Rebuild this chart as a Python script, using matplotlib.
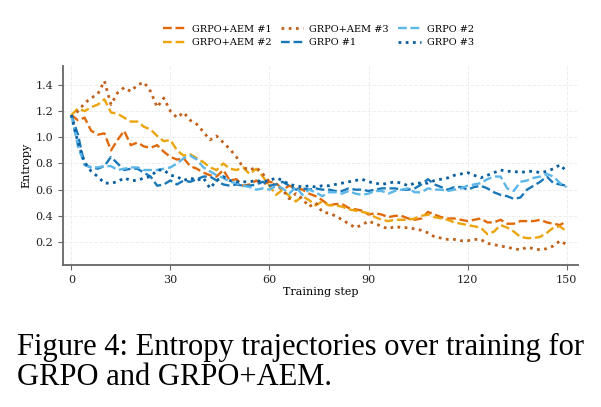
import numpy as np
import matplotlib
matplotlib.use('Agg')
import matplotlib.pyplot as plt

# training steps (every 2nd step)
steps = list(range(0, 151, 2))

aem1 = [1.17, 1.13, 1.15, 1.05, 1.02, 1.03, 0.90, 0.98, 1.05, 0.94,
        0.96, 0.93, 0.92, 0.94, 0.89, 0.85, 0.83, 0.84, 0.78, 0.76,
        0.73, 0.71, 0.70, 0.75, 0.67, 0.68, 0.63, 0.64, 0.67, 0.64,
        0.66, 0.65, 0.60, 0.63, 0.61, 0.60, 0.57, 0.55, 0.52, 0.48,
        0.49, 0.49, 0.46, 0.45, 0.44, 0.41, 0.42, 0.41, 0.39, 0.40,
        0.40, 0.38, 0.37, 0.38, 0.43, 0.41, 0.39, 0.38, 0.38, 0.37,
        0.36, 0.37, 0.38, 0.35, 0.35, 0.37, 0.34, 0.34, 0.36, 0.36,
        0.36, 0.37, 0.35, 0.34, 0.33, 0.36]
aem2 = [1.17, 1.22, 1.20, 1.23, 1.25, 1.29, 1.19, 1.18, 1.15, 1.12,
        1.12, 1.08, 1.06, 1.01, 0.97, 0.98, 0.90, 0.86, 0.87, 0.84,
        0.81, 0.77, 0.75, 0.80, 0.76, 0.75, 0.77, 0.72, 0.76, 0.70,
        0.63, 0.56, 0.60, 0.55, 0.51, 0.55, 0.52, 0.48, 0.51, 0.48,
        0.48, 0.47, 0.45, 0.44, 0.43, 0.42, 0.39, 0.37, 0.36, 0.37,
        0.37, 0.37, 0.38, 0.40, 0.41, 0.39, 0.38, 0.37, 0.35, 0.34,
        0.33, 0.32, 0.31, 0.26, 0.28, 0.33, 0.31, 0.28, 0.24, 0.23,
        0.23, 0.24, 0.27, 0.31, 0.32, 0.28]
aem3 = [1.15, 1.20, 1.26, 1.30, 1.33, 1.43, 1.25, 1.34, 1.38, 1.35,
        1.40, 1.42, 1.35, 1.23, 1.30, 1.20, 1.15, 1.19, 1.13, 1.10,
        1.04, 0.98, 1.01, 0.96, 0.91, 0.85, 0.77, 0.75, 0.77, 0.72,
        0.66, 0.63, 0.60, 0.53, 0.57, 0.53, 0.47, 0.50, 0.43, 0.42,
        0.40, 0.37, 0.34, 0.31, 0.33, 0.36, 0.34, 0.32, 0.30, 0.32,
        0.31, 0.31, 0.30, 0.29, 0.27, 0.24, 0.23, 0.22, 0.22, 0.21,
        0.21, 0.22, 0.22, 0.19, 0.18, 0.17, 0.16, 0.15, 0.14, 0.16,
        0.15, 0.14, 0.15, 0.17, 0.21, 0.18]
grpo1 = [1.17, 1.02, 0.79, 0.77, 0.76, 0.78, 0.85, 0.80, 0.75, 0.76,
         0.76, 0.73, 0.70, 0.63, 0.64, 0.67, 0.64, 0.67, 0.66, 0.68,
         0.70, 0.70, 0.67, 0.64, 0.63, 0.64, 0.63, 0.63, 0.64, 0.66,
         0.63, 0.64, 0.66, 0.63, 0.60, 0.61, 0.60, 0.61, 0.60, 0.60,
         0.59, 0.59, 0.61, 0.60, 0.60, 0.59, 0.60, 0.61, 0.61, 0.61,
         0.60, 0.60, 0.61, 0.64, 0.68, 0.64, 0.62, 0.60, 0.62, 0.62,
         0.60, 0.62, 0.63, 0.61, 0.58, 0.56, 0.55, 0.53, 0.54, 0.60,
         0.63, 0.66, 0.70, 0.65, 0.64, 0.63]
grpo2 = [1.17, 0.93, 0.79, 0.77, 0.77, 0.78, 0.78, 0.75, 0.76, 0.77,
         0.77, 0.75, 0.75, 0.75, 0.76, 0.77, 0.80, 0.84, 0.86, 0.83,
         0.77, 0.74, 0.71, 0.69, 0.66, 0.65, 0.63, 0.62, 0.60, 0.61,
         0.60, 0.63, 0.61, 0.57, 0.62, 0.56, 0.60, 0.58, 0.55, 0.58,
         0.58, 0.57, 0.59, 0.57, 0.56, 0.57, 0.59, 0.59, 0.57, 0.59,
         0.60, 0.61, 0.58, 0.58, 0.61, 0.60, 0.60, 0.59, 0.60, 0.61,
         0.63, 0.64, 0.65, 0.68, 0.70, 0.70, 0.61, 0.59, 0.66, 0.67,
         0.69, 0.70, 0.72, 0.70, 0.65, 0.62]
grpo3 = [1.17, 0.96, 0.81, 0.74, 0.70, 0.65, 0.65, 0.66, 0.69, 0.67,
         0.67, 0.69, 0.70, 0.75, 0.75, 0.71, 0.70, 0.67, 0.69, 0.67,
         0.69, 0.61, 0.67, 0.70, 0.67, 0.66, 0.66, 0.66, 0.67, 0.66,
         0.67, 0.69, 0.67, 0.64, 0.63, 0.62, 0.63, 0.62, 0.63, 0.63,
         0.64, 0.65, 0.66, 0.67, 0.68, 0.66, 0.65, 0.64, 0.65, 0.66,
         0.65, 0.63, 0.65, 0.65, 0.65, 0.67, 0.68, 0.69, 0.71, 0.72,
         0.73, 0.71, 0.69, 0.71, 0.73, 0.75, 0.74, 0.74, 0.73, 0.74,
         0.74, 0.73, 0.74, 0.76, 0.79, 0.74]

labels = ['GRPO+AEM #1', 'GRPO+AEM #2', 'GRPO+AEM #3', 'GRPO #1', 'GRPO #2', 'GRPO #3']
colors = ['#e06a0a', '#eba40c', '#c0621c', '#1a78b8', '#5cb6e8', '#0b5f9e']
dotted = (0, (1.0, 1.6))
styles = ['--', '--', dotted, '--', '--', dotted]

plt.rcParams['font.family'] = ['DejaVu Serif']

fig = plt.figure(figsize=(6.01, 4.07), dpi=100)
ax = fig.add_axes([0.105, 0.349, 0.857, 0.489])

for ys, lab, c, ls in zip([aem1, aem2, aem3, grpo1, grpo2, grpo3], labels, colors, styles):
    lw = 2.0 if ls is dotted else 1.7
    ax.plot(steps, ys, linestyle=ls, color=c, lw=lw, label=lab)

ax.set_xlim(-2.5, 153.5)
ax.set_ylim(0.025, 1.545)
ax.set_xticks([0, 30, 60, 90, 120, 150])
ax.set_yticks([0.2, 0.4, 0.6, 0.8, 1.0, 1.2, 1.4])
ax.tick_params(labelsize=8, colors='#222222', length=3.5, width=0.8, color='#666666')
ax.grid(True, color='#eeeeee', lw=0.7, ls='--')
ax.set_axisbelow(True)
for s in ['top', 'right']:
    ax.spines[s].set_visible(False)
for s in ['left', 'bottom']:
    ax.spines[s].set_color('#666666')
    ax.spines[s].set_linewidth(1.3)
ax.set_xlabel('Training step', fontsize=8, labelpad=2)
ax.set_ylabel('Entropy', fontsize=8, labelpad=3)

fig.legend(loc='center', bbox_to_anchor=(0.53, 0.912), ncol=3, frameon=False,
           fontsize=7, handlelength=2.3, columnspacing=1.0, handletextpad=0.6,
           labelspacing=0.45)

fig.text(0.028, 0.11, 'Figure 4: Entropy trajectories over training for\nGRPO and GRPO+AEM.',
         family='Liberation Serif', fontsize=22, va='center', ha='left', linespacing=1.05)

fig.savefig('out.png', dpi=100)
